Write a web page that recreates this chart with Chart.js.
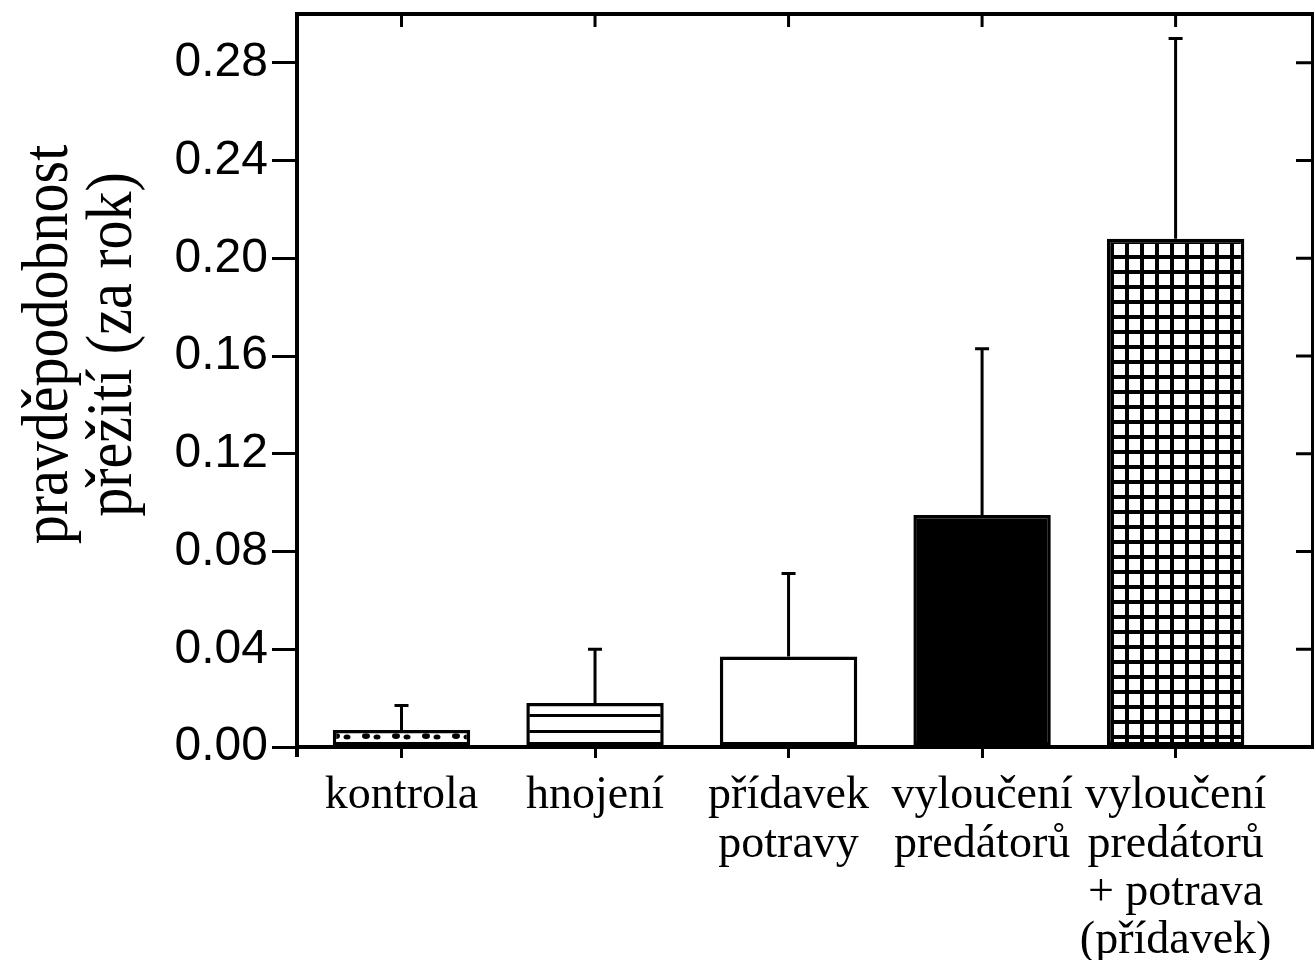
<!DOCTYPE html>
<html>
<head>
<meta charset="utf-8">
<script src="https://cdn.jsdelivr.net/npm/chart.js@4.4.1/dist/chart.umd.min.js"></script>
<style>
  html, body { margin: 0; padding: 0; background: #fff; overflow: hidden; }
  #obal { width: 1314px; height: 960px; }
</style>
</head>
<body>
<div id="obal"><canvas id="graf"></canvas></div>
<script>
// popisky skupin na ose x (víceřádkové)
const kategorie = [
  ['kontrola'],
  ['hnojení'],
  ['přídavek', 'potravy'],
  ['vyloučení', 'predátorů'],
  ['vyloučení', 'predátorů', '+ potrava', '(přídavek)']
];
// průměrná pravděpodobnost přežití za rok
const preziti = [0.007, 0.018, 0.037, 0.095, 0.208];
// horní chybové úsečky
const chyby = [0.010, 0.022, 0.034, 0.068, 0.082];
// značky na ose y
const znackyY = [0, 0.04, 0.08, 0.12, 0.16, 0.20, 0.24, 0.28];
const titulekY = ['pravděpodobnost', 'přežití (za rok)'];

const ctx = document.getElementById('graf').getContext('2d');

// výplně sloupců – vzorky
function vzorek(w, h, kresli) {
  const c = document.createElement('canvas');
  c.width = w; c.height = h;
  const g = c.getContext('2d');
  g.fillStyle = '#fff';
  g.fillRect(0, 0, w, h);
  g.fillStyle = '#000';
  kresli(g);
  return ctx.createPattern(c, 'repeat');
}

const tecky = vzorek(30, 17, g => {
  g.beginPath(); g.ellipse(6, 5, 4, 3, 0, 0, Math.PI * 2); g.fill();
  g.beginPath(); g.ellipse(17, 6, 3.5, 2.5, 0, 0, Math.PI * 2); g.fill();
  g.beginPath(); g.ellipse(25, 13, 3, 2, 0, 0, Math.PI * 2); g.fill();
});
const pruhy = vzorek(4, 16, g => g.fillRect(0, 10, 4, 3));
const mrizka = vzorek(15, 15, g => {
  g.fillRect(0, 0, 15, 4);
  g.fillRect(0, 0, 4, 15);
});

// chybové úsečky nahoru s krátkou příčkou
const chybove = {
  id: 'chybove',
  afterDatasetsDraw(chart) {
    const c = chart.ctx, y = chart.scales.y;
    const meta = chart.getDatasetMeta(0);
    c.save();
    c.strokeStyle = '#000';
    c.lineWidth = 3;
    meta.data.forEach((bar, i) => {
      const vrch = y.getPixelForValue(preziti[i] + chyby[i]);
      c.beginPath();
      c.moveTo(bar.x, bar.y);
      c.lineTo(bar.x, vrch);
      c.moveTo(bar.x - 7, vrch);
      c.lineTo(bar.x + 7, vrch);
      c.stroke();
    });
    c.restore();
  }
};

// horní a pravý okraj rámečku se značkami dovnitř
const ramecek = {
  id: 'ramecek',
  afterDraw(chart) {
    const c = chart.ctx, a = chart.chartArea;
    const x = chart.scales.x, y = chart.scales.y;
    c.save();
    c.strokeStyle = '#000';
    c.lineWidth = 4;
    c.beginPath();
    c.moveTo(a.left - 2, a.top);
    c.lineTo(a.right, a.top);
    c.lineTo(a.right, a.bottom);
    c.moveTo(a.left, a.bottom);
    c.lineTo(a.left, a.bottom + 10);
    c.stroke();
    c.lineWidth = 3;
    c.beginPath();
    kategorie.forEach((k, i) => {
      const px = x.getPixelForValue(i);
      c.moveTo(px, a.top);
      c.lineTo(px, a.top + 13);
    });
    znackyY.forEach(v => {
      if (v === 0) return;
      const py = y.getPixelForValue(v);
      c.moveTo(a.right, py);
      c.lineTo(a.right - 17, py);
    });
    c.stroke();
    c.restore();
  }
};

// svislý popis osy y ve dvou řádcích
const titulek = {
  id: 'titulek',
  afterDraw(chart) {
    const c = chart.ctx, a = chart.chartArea;
    const stred = (a.top + a.bottom) / 2 - 36;
    c.save();
    c.fillStyle = '#000';
    c.font = '58px "Liberation Serif"';
    c.textAlign = 'center';
    c.textBaseline = 'alphabetic';
    [67, 131].forEach((bx, i) => {
      c.save();
      c.translate(bx, stred);
      c.rotate(-Math.PI / 2);
      c.scale(1, 1.12);
      c.fillText(titulekY[i], 0, 0);
      c.restore();
    });
    c.restore();
  }
};

new Chart(ctx, {
  type: 'bar',
  data: {
    datasets: [{
      data: preziti.map((v, i) => ({ x: i, y: v })),
      backgroundColor: [tecky, pruhy, '#fff', '#000', mrizka],
      borderColor: '#000',
      borderWidth: 3.5,
      borderSkipped: false,
      barPercentage: 0.71,
      categoryPercentage: 1
    }]
  },
  options: {
    responsive: true,
    maintainAspectRatio: false,
    animation: false,
    events: [],
    layout: { padding: { top: 14, right: 1, left: 0, bottom: 0 } },
    plugins: { legend: { display: false }, tooltip: { enabled: false } },
    scales: {
      x: {
        type: 'linear',
        min: -0.54,
        max: 4.71,
        offset: false,
        afterBuildTicks: s => { s.ticks = kategorie.map((k, i) => ({ value: i })); },
        afterFit: s => { s.height = 213; s.paddingLeft = 0; s.paddingRight = 0; },
        ticks: {
          callback: v => kategorie[v],
          font: { family: '"Liberation Serif"', size: 46, lineHeight: 1.05 },
          color: '#000',
          padding: 14,
          maxRotation: 0,
          autoSkip: false
        },
        grid: { offset: false, drawOnChartArea: false, tickLength: 11, lineWidth: 3, color: '#000' },
        border: { display: true, color: '#000', width: 4 }
      },
      y: {
        min: 0,
        max: 0.30,
        afterBuildTicks: s => { s.ticks = znackyY.map(v => ({ value: v })); },
        afterFit: s => { s.width = 297; s.paddingTop = 0; s.paddingBottom = 0; },
        ticks: {
          callback: v => v.toFixed(2),
          font: { family: '"Liberation Sans"', size: 48 },
          color: '#000',
          padding: 4
        },
        grid: { drawOnChartArea: false, tickLength: 25, lineWidth: 3, color: '#000' },
        border: { display: true, color: '#000', width: 4 }
      }
    }
  },
  plugins: [chybove, ramecek, titulek]
});
</script>
</body>
</html>
